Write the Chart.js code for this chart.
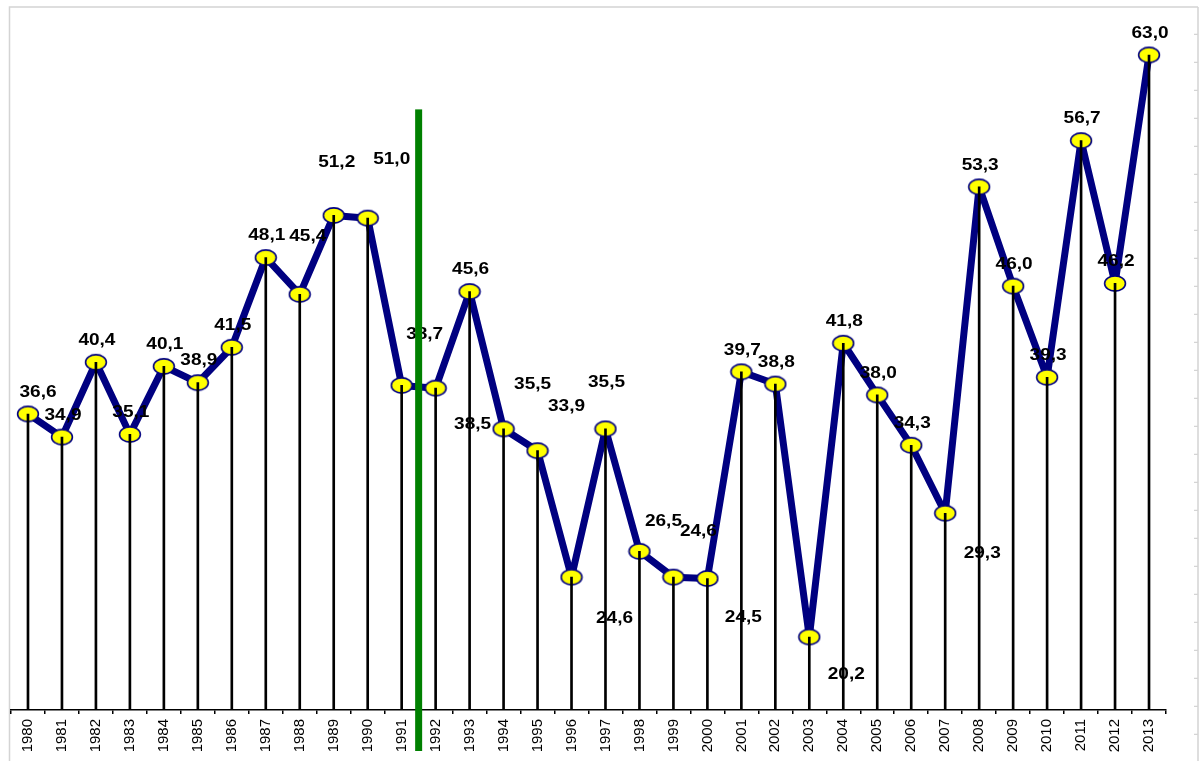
<!DOCTYPE html>
<html>
<head>
<meta charset="utf-8">
<script src="https://cdn.jsdelivr.net/npm/chart.js@4"></script>
<style>
  html, body { margin: 0; padding: 0; background: #fff; }
  #wrap { width: 1200px; height: 761px; }
</style>
</head>
<body>
<div id="wrap"><canvas id="c" width="1200" height="761"></canvas></div>
<script>
// Years on the category axis
const years = ['1980','1981','1982','1983','1984','1985','1986','1987','1988','1989',
               '1990','1991','1992','1993','1994','1995','1996','1997','1998','1999',
               '2000','2001','2002','2003','2004','2005','2006','2007','2008','2009',
               '2010','2011','2012','2013'];

// Annual values
const values = [36.6, 34.9, 40.4, 35.1, 40.1, 38.9, 41.5, 48.1, 45.4, 51.2,
                51.0, 38.7, 38.5, 45.6, 35.5, 33.9, 24.6, 35.5, 26.5, 24.6,
                24.5, 39.7, 38.8, 20.2, 41.8, 38.0, 34.3, 29.3, 53.3, 46.0,
                39.3, 56.7, 46.2, 63.0];

// Vertical marker separating the periods
const dividerAfter = '1991';
const dividerTop = 59;

// Label placement: default is centred above the marker; these years are moved (px)
const labelNudge = {
  '1980': [9, 0],   '1988': [7, -36],  '1989': [2, -31],  '1990': [23, -37],
  '1991': [22, -29], '1992': [36, 58], '1994': [28, -23], '1995': [28, -22],
  '1996': [42, 63], '1997': [0, -25],  '1998': [23, -8],  '1999': [24, -24],
  '2000': [35, 61], '2003': [36, 59],  '2007': [36, 62]
};

const fmt = v => v.toFixed(1).replace('.', ',');

// Elliptical yellow marker
function makeMarker() {
  const c = document.createElement('canvas');
  c.width = 24; c.height = 19;
  const g = c.getContext('2d');
  g.beginPath();
  g.ellipse(12, 9.5, 10.4, 7.6, 0, 0, Math.PI * 2);
  g.fillStyle = '#ffff00';
  g.fill();
  g.lineWidth = 1.6;
  g.strokeStyle = '#000080';
  g.stroke();
  return c;
}

// Light grey outer frame with a tick ladder on the right edge
const framePlugin = {
  id: 'frame',
  beforeDraw(chart) {
    const ctx = chart.ctx;
    const W = chart.width, H = chart.height;
    ctx.save();
    ctx.strokeStyle = '#d4d4d4';
    ctx.lineWidth = 1.5;
    ctx.beginPath();
    ctx.moveTo(9.5, H);
    ctx.lineTo(9.5, 7);
    ctx.lineTo(W - 2, 7);
    ctx.moveTo(W - 2, 7);
    ctx.lineTo(W - 2, H);
    ctx.stroke();
    ctx.lineWidth = 1.2;
    ctx.beginPath();
    for (let y = 34.3; y < H; y += 28) {
      ctx.moveTo(W - 6, y);
      ctx.lineTo(W - 2, y);
    }
    ctx.stroke();
    ctx.restore();
  }
};

// Value labels with decimal comma
const labelPlugin = {
  id: 'valueLabels',
  afterDatasetsDraw(chart) {
    const ctx = chart.ctx;
    const meta = chart.getDatasetMeta(1);
    ctx.save();
    ctx.font = 'bold 17px "Liberation Sans", Arial, sans-serif';
    ctx.fillStyle = '#000';
    ctx.textAlign = 'center';
    ctx.textBaseline = 'middle';
    meta.data.forEach((pt, i) => {
      const nudge = labelNudge[years[i]] || [0, 0];
      const x = pt.x + nudge[0] + 1;
      const y = pt.y - 22 + nudge[1];
      ctx.save();
      ctx.translate(x, y);
      ctx.scale(1.12, 1);
      ctx.fillText(fmt(values[i]), 0, 0);
      ctx.restore();
    });
    ctx.restore();
  }
};

// Green divider between two years
const dividerPlugin = {
  id: 'divider',
  afterDraw(chart) {
    const xs = chart.scales.x, ys = chart.scales.y;
    const i = years.indexOf(dividerAfter);
    const x = (xs.getPixelForValue(i) + xs.getPixelForValue(i + 1)) / 2;
    const top = ys.getPixelForValue(dividerTop);
    const ctx = chart.ctx;
    ctx.save();
    ctx.fillStyle = '#008000';
    ctx.fillRect(x - 3.5, top, 7, chart.chartArea.bottom + 41 - top);
    ctx.restore();
  }
};

new Chart(document.getElementById('c'), {
  type: 'line',
  data: {
    labels: years,
    datasets: [
      {
        type: 'bar',
        data: values,
        backgroundColor: '#000',
        barThickness: 2,
        order: 0
      },
      {
        type: 'line',
        data: values,
        borderColor: '#000080',
        borderWidth: 7,
        borderJoinStyle: 'round',
        tension: 0,
        fill: false,
        pointStyle: makeMarker(),
        pointRadius: 10,
        order: 1
      }
    ]
  },
  options: {
    responsive: false,
    devicePixelRatio: 1,
    animation: false,
    layout: { autoPadding: false, padding: { left: 11, right: 34, top: 7, bottom: 0 } },
    plugins: { legend: { display: false }, tooltip: { enabled: false } },
    scales: {
      x: {
        offset: true,
        grid: { offset: true, drawOnChartArea: false, drawTicks: true, tickLength: 4, color: '#000', lineWidth: 1.5 },
        border: { color: '#000', width: 1.5 },
        ticks: {
          minRotation: 90, maxRotation: 90, autoSkip: false, padding: 5, color: '#000',
          font: { family: '"Liberation Sans", Arial, sans-serif', size: 15 }
        },
        afterFit(s) { s.height = 51; s.paddingLeft = 0; s.paddingRight = 0; }
      },
      y: { display: false, min: 14.83, max: 66.53 }
    }
  },
  plugins: [framePlugin, labelPlugin, dividerPlugin]
});
</script>
</body>
</html>
